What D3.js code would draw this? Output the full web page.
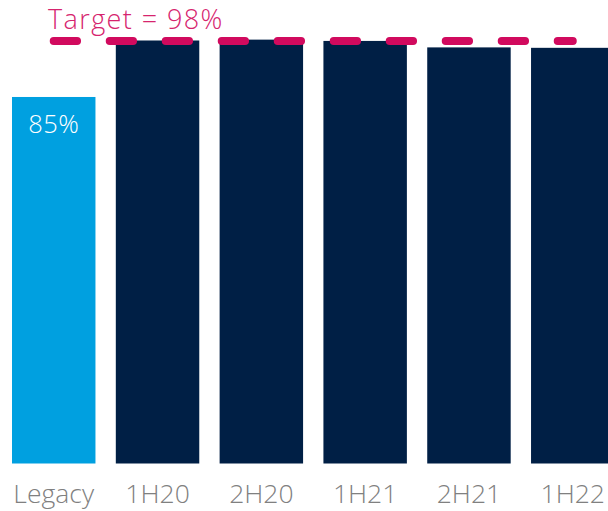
<!DOCTYPE html>
<html>
<head>
<meta charset="utf-8">
<script src="https://cdn.jsdelivr.net/npm/d3@7"></script>
<style>
  body { margin: 0; background: #fff; }
  text { font-family: "Open Sans", sans-serif; font-weight: 300; }
</style>
</head>
<body>
<svg width="608" height="511"></svg>
<script>
var categories = ["Legacy", "1H20", "2H20", "1H21", "2H21", "1H22"],
    values = [85, 98.1, 98.3, 98.0, 96.5, 96.4],
    target = 98,
    targetLabel = "Target = 98%",
    legacyLabel = "85%";

var svg = d3.select("svg"),
    bottom = 463.5;

var x = d3.scaleBand()
    .domain(categories)
    .range([12, 614.5])
    .paddingInner(0.196)
    .paddingOuter(0);

var y = d3.scaleLinear()
    .domain([0, 100])
    .range([bottom, bottom - 431.2]);

svg.selectAll(".bar")
    .data(values)
  .enter().append("rect")
    .attr("class", "bar")
    .attr("x", function(d, i) { return x(categories[i]); })
    .attr("y", function(d) { return y(d); })
    .attr("width", x.bandwidth())
    .attr("height", function(d) { return y(0) - y(d); })
    .style("fill", function(d, i) { return i === 0 ? "#00A0E0" : "#001F45"; });

// value label inside legacy bar
svg.append("text")
    .attr("x", x(categories[0]) + x.bandwidth() / 2)
    .attr("y", y(values[0]) + 36)
    .style("text-anchor", "middle")
    .style("font-size", "25.5px")
    .style("letter-spacing", "0.5px")
    .style("fill", "#fff")
    .text(legacyLabel);

// target line
svg.append("line")
    .attr("x1", x(categories[0]) + x.bandwidth() / 2)
    .attr("x2", x(categories[categories.length - 1]) + x.bandwidth() / 2)
    .attr("y1", y(target))
    .attr("y2", y(target))
    .style("stroke", "#D10A5E")
    .style("stroke-width", 8)
    .style("stroke-linecap", "round")
    .style("stroke-dasharray", "23.3 32.7");

svg.append("text")
    .attr("x", 48)
    .attr("y", 29)
    .style("font-size", "27px")
    .style("letter-spacing", "1.4px")
    .style("fill", "#D6246E")
    .text(targetLabel);

var axis = svg.append("g")
    .attr("transform", "translate(0," + bottom + ")")
    .call(d3.axisBottom(x).tickSize(0).tickPadding(21));

axis.select(".domain").remove();
axis.selectAll("text")
    .style("font-family", "Open Sans, sans-serif")
    .style("font-weight", 300)
    .style("font-size", "26.5px")
    .style("fill", "#808080");
</script>
</body>
</html>
